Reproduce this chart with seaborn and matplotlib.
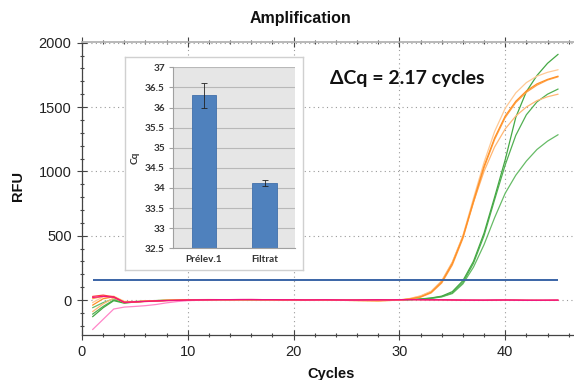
import numpy as np
import pandas as pd
import matplotlib
matplotlib.use("Agg")
import matplotlib.pyplot as plt
import seaborn as sns
from matplotlib.ticker import MultipleLocator

# courbes d'amplification (RFU par cycle)
cycles = list(range(1, 46))

orange_a = [-20, 25, 30, -10, -12, -8, -5, -2, 0, 2,
            3, 4, 3, 2, 3, 4, 3, 2, 2, 1,
            1, 0, 0, -1, -2, -3, -4, -5, -3, 0,
            10, 30, 65, 145, 290, 500, 790, 1070, 1310, 1490, 1610, 1690, 1740, 1770, 1790]
orange_b = [-40, 10, 25, -15, -14, -9, -6, -3, -1, 1,
            2, 3, 3, 2, 2, 3, 3, 2, 1, 1,
            0, 0, -1, -2, -3, -4, -5, -6, -4, -1,
            8, 25, 60, 140, 285, 490, 770, 1040, 1260, 1430, 1545, 1625, 1680, 1715, 1740]
orange_c = [10, 30, 20, -20, -15, -10, -6, -3, -1, 1,
            2, 2, 3, 3, 2, 2, 2, 1, 1, 1,
            0, -1, -1, -2, -3, -4, -4, -5, -3, 0,
            7, 22, 55, 132, 272, 478, 758, 1028, 1248, 1418, 1535, 1615, 1670, 1710, 1735]
orange_d = [-90, -30, 15, -15, -12, -8, -5, -2, 0, 1,
            2, 3, 3, 2, 3, 3, 2, 2, 1, 1,
            0, 0, -1, -1, -2, -3, -4, -4, -2, 1,
            12, 32, 68, 150, 295, 495, 760, 1000, 1190, 1330, 1430, 1500, 1550, 1580, 1600]
green_a = [-130, -60, -5, -25, -15, -10, -6, -3, -1, 0,
           1, 2, 2, 1, 2, 2, 1, 1, 0, 0,
           0, -1, -1, -1, -2, -2, -2, -1, 0, 1,
           3, 8, 16, 30, 65, 150, 300, 520, 800, 1090, 1420, 1620, 1745, 1840, 1910]
green_b = [-110, -50, 0, -20, -14, -9, -5, -2, 0, 1,
           1, 2, 2, 2, 1, 1, 1, 1, 0, 0,
           0, 0, -1, -1, -1, -2, -2, -1, 0, 1,
           3, 7, 14, 27, 55, 135, 285, 500, 780, 1050, 1280, 1440, 1540, 1600, 1640]
green_c = [-60, -20, 10, -18, -12, -8, -4, -2, 0, 1,
           1, 1, 2, 2, 1, 1, 1, 0, 0, 0,
           0, 0, 0, -1, -1, -1, -1, 0, 0, 1,
           2, 6, 12, 24, 50, 125, 255, 430, 640, 830, 970, 1080, 1170, 1235, 1285]
pink_a = [-230, -150, -70, -55, -50, -44, -35, -22, -12, -5,
          -2, 0, 1, 2, 2, 3, 2, 2, 1, 1,
          0, 0, 1, 0, 0, -1, 0, 0, 1, 1,
          2, 1, 0, 0, -1, -2, -1, 0, 0, 1, 0, -1, -2, -1, 0]
magenta_a = [20, 28, 22, -18, -14, -10, -7, -4, -2, 0,
             1, 2, 3, 3, 4, 4, 3, 3, 2, 2,
             1, 1, 2, 1, 0, 0, 1, 2, 1, 2,
             4, 3, 2, 2, 1, 0, -1, -1, 0, 0, -1, -2, -2, -1, -1]
red_a = [28, 38, 25, -20, -16, -12, -8, -5, -3, -1,
         0, 1, 2, 2, 3, 3, 2, 2, 1, 1,
         0, 1, 1, 0, 0, 0, 1, 1, 1, 2,
         3, 2, 2, 1, 0, -1, -1, -2, -1, 0, 0, -1, -1, -2, -1]

threshold = 155

# encart : Cq moyen
samples = ["Prélev.1", "Filtrat"]
cq_means = [36.3, 34.13]
cq_err = [0.3, 0.07]

delta_text = "ΔCq = 2.17 cycles"

curves = {
    "green_c": (green_c, "#66BB66"),
    "green_b": (green_b, "#52B052"),
    "green_a": (green_a, "#44A844"),
    "orange_d": (orange_d, "#FFB774"),
    "orange_a": (orange_a, "#FFC994"),
    "orange_c": (orange_c, "#FFA148"),
    "orange_b": (orange_b, "#FF9126"),
    "pink_a": (pink_a, "#FF85C8"),
    "red_a": (red_a, "#FF4040"),
    "magenta_a": (magenta_a, "#EE1480"),
}

rows = []
for name, (vals, col) in curves.items():
    for c, v in zip(cycles, vals):
        rows.append({"cycle": c, "rfu": v, "well": name})
df = pd.DataFrame(rows)
palette = {name: col for name, (vals, col) in curves.items()}

sns.set_theme(style="white")
plt.rcParams['font.family'] = ['Liberation Sans', 'DejaVu Sans']

fig = plt.figure(figsize=(5.74, 3.80), dpi=100)
W, H = 574, 380
ax = fig.add_axes([82 / W, 1 - 335 / H, 1 - 82 / W, (335 - 41.7) / H])

sns.lineplot(data=df, x="cycle", y="rfu", hue="well", palette=palette,
             hue_order=list(curves.keys()), estimator=None, legend=False,
             linewidth=0.9, ax=ax)
ax.hlines(threshold, cycles[0], cycles[-1], color="#3A64A6", linewidth=1.4, zorder=5)

ax.set_xlim(0, (574 - 82) / 10.58)
ax.set_ylim(-272, 2008)
ax.set_xlabel("")
ax.set_ylabel("")
ax.xaxis.set_major_locator(MultipleLocator(10))
ax.xaxis.set_minor_locator(MultipleLocator(2))
ax.yaxis.set_major_locator(MultipleLocator(500))
ax.yaxis.set_minor_locator(MultipleLocator(100))
ax.grid(True, which="major", linestyle=(0, (1, 3)), color="#9A9A9A", linewidth=0.8)
ax.tick_params(which="major", direction="inout", length=7, width=0.8, color="#444444",
               labelsize=10.5, labelcolor="#222222", pad=4)
ax.tick_params(which="minor", direction="inout", length=3.5, width=0.8, color="#444444")
ax.tick_params(axis="x", which="both", top=True, bottom=True)
ax.tick_params(axis="x", which="both", labeltop=False)
ax.tick_params(axis="y", which="both", left=True)
for s in ["left", "bottom"]:
    ax.spines[s].set_color("#444444")
    ax.spines[s].set_linewidth(0.9)
ax.spines["top"].set_color("#B0B0B0")
ax.spines["right"].set_visible(False)
ax.set_facecolor("white")

ax.text(23.4, 1720, delta_text, fontsize=14, fontweight="bold",
        family=["Lato", "DejaVu Sans"], ha="left", va="center", color="#111111")

fig.text(300 / W, 1 - 19 / H, "Amplification", fontsize=11.5, fontweight="bold",
         ha="center", va="center", color="#111111")
fig.text(18 / W, 1 - 186 / H, "RFU", fontsize=10.5, fontweight="bold", rotation=90,
         ha="center", va="center", color="#111111")
fig.text(331 / W, 1 - 374 / H, "Cycles", fontsize=10.5, fontweight="bold",
         ha="center", va="center", color="#111111")

# encart
box = fig.add_axes([125 / W, 1 - 270 / H, 178 / W, 213 / H])
box.set_xticks([])
box.set_yticks([])
box.set_facecolor("white")
for s in box.spines.values():
    s.set_color("#D0D0D0")
    s.set_linewidth(1.0)
box.set_zorder(10)

axin = fig.add_axes([173.3 / W, 1 - 248.3 / H, 121.7 / W, (248.3 - 67.3) / H])
axin.set_zorder(11)
axin.set_facecolor("#E6E6E6")
sns.barplot(x=samples, y=cq_means, color="#4F81BD", width=0.4, saturation=1,
            edgecolor="#4170AA", linewidth=0.6, ax=axin)
axin.errorbar(range(len(samples)), cq_means, yerr=cq_err, fmt="none",
              ecolor="#222222", elinewidth=0.6, capsize=2, capthick=0.6)
axin.set_ylim(32.5, 37)
axin.set_xlim(-0.5, 1.5)
axin.set_yticks(np.arange(32.5, 37.01, 0.5))
axin.set_yticklabels([f"{v:g}" for v in np.arange(32.5, 37.01, 0.5)])
axin.grid(True, axis="y", color="#B8B8B8", linewidth=0.8)
axin.set_axisbelow(True)
axin.set_xticks([-0.5, 0.5, 1.5], minor=True)
axin.tick_params(axis="x", which="major", length=0, labelsize=7.2, pad=5)
axin.tick_params(axis="x", which="minor", length=3, color="#A0A0A0", width=0.8)
axin.tick_params(axis="y", length=3, color="#A0A0A0", width=0.8, labelsize=7.2, pad=3,
                 left=True)
for lab in axin.get_xticklabels() + axin.get_yticklabels():
    lab.set_fontweight("bold")
    lab.set_color("#333333")
    lab.set_family(["Lato", "DejaVu Sans"])
axin.set_ylabel("Cq", fontsize=7.2, fontweight="bold", color="#333333",
                family=["Lato", "DejaVu Sans"], labelpad=4)
axin.set_xlabel("")
for s in ["top", "right"]:
    axin.spines[s].set_visible(False)
for s in ["left", "bottom"]:
    axin.spines[s].set_color("#A0A0A0")
    axin.spines[s].set_linewidth(0.8)

fig.savefig("out.png", dpi=100)
